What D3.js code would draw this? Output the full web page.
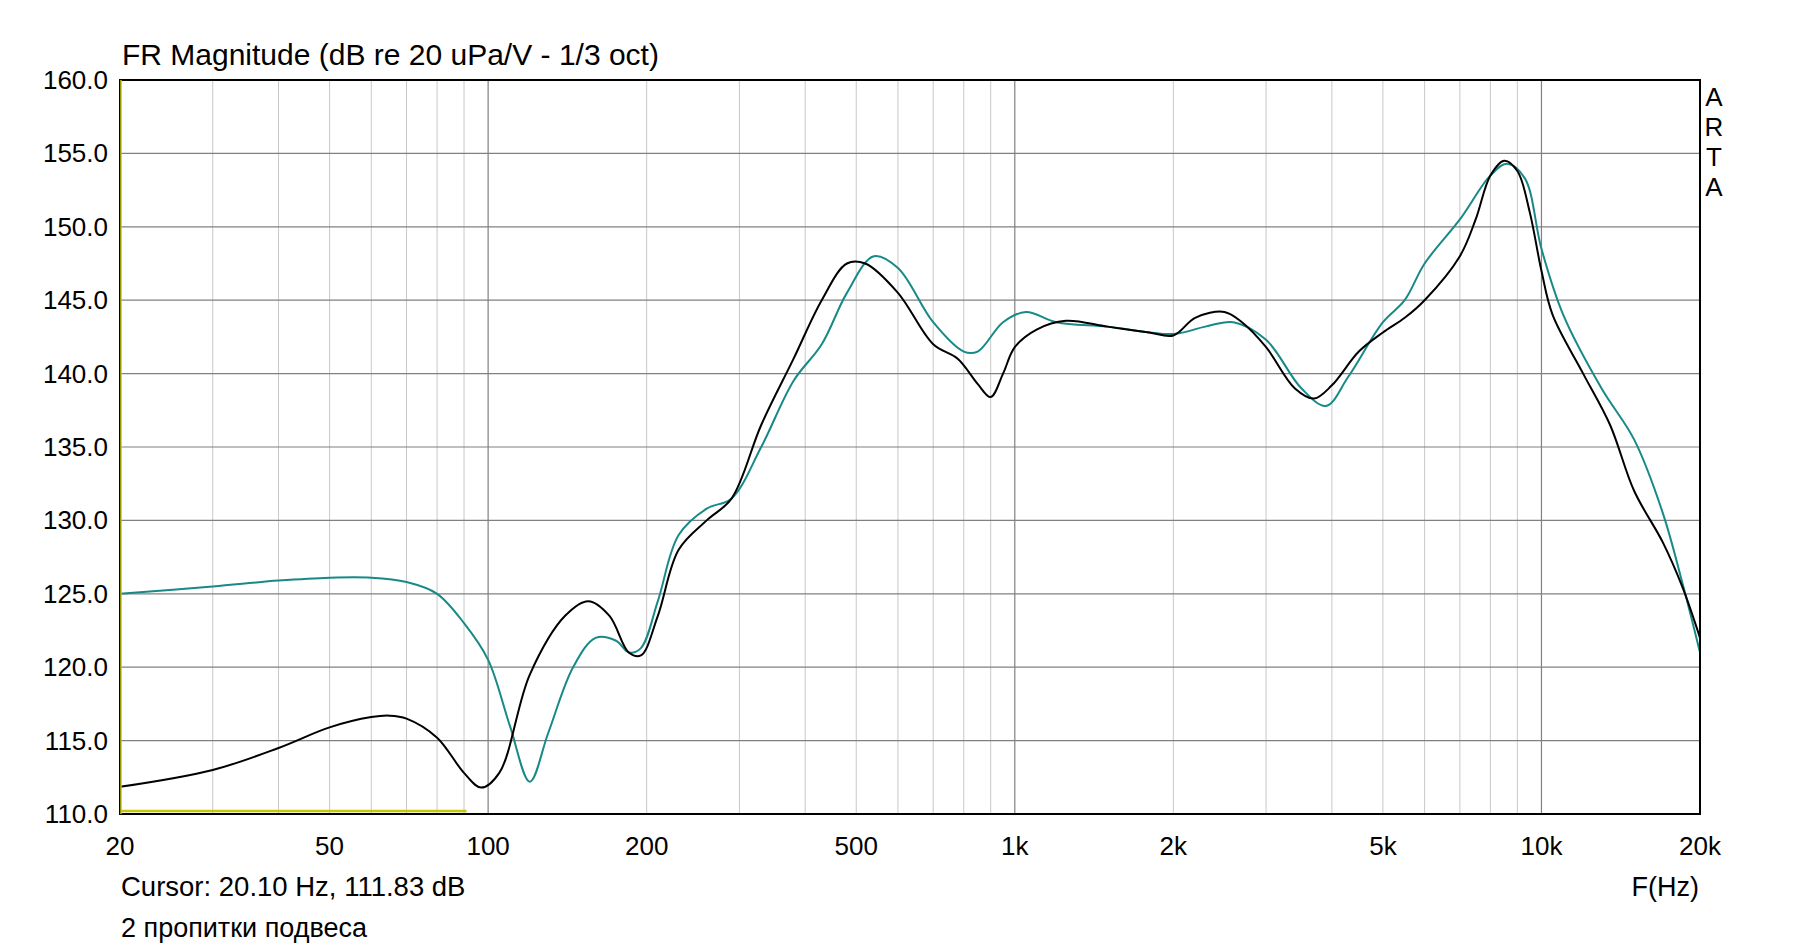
<!DOCTYPE html>
<html><head><meta charset="utf-8">
<script src="https://cdn.jsdelivr.net/npm/d3@7"></script>
<style>body{margin:0;background:#fff}text{font-family:"Liberation Sans",Arial,sans-serif;fill:#000}</style>
</head><body>
<svg id="c" width="1820" height="946"></svg>
<script>
const freqBlack=[20,30,40,50,60,65,70,80,90,97,105,120,140,155,170,185,195,210,230,260,290,330,380,430,480,520,600,700,780,850,900,950,1000,1100,1250,1500,1800,2000,2200,2500,2700,3000,3400,3700,4000,4500,5000,5500,6000,7000,7500,8000,8500,9000,9500,10000,10500,12000,13500,15000,17000,18500,20000];
const dbBlack=[111.85,113.0,114.5,115.9,116.6,116.7,116.5,115.2,112.8,111.8,112.8,119.5,123.5,124.5,123.5,121.0,120.8,123.5,128.0,130.0,131.5,136.5,141.0,145.0,147.5,147.5,145.5,142.0,141.0,139.3,138.4,140.0,141.8,143.0,143.6,143.2,142.8,142.6,143.8,144.2,143.5,141.8,139.0,138.3,139.2,141.5,142.8,143.8,145.0,148.0,150.5,153.5,154.5,153.8,151.0,147.0,144.0,140.0,136.5,132.0,128.5,125.5,122.0];
const freqTeal=[20,30,40,50,60,70,80,90,100,110,120,130,145,160,175,185,195,210,230,260,290,330,380,430,480,540,600,700,800,850,950,1050,1200,1500,2000,2300,2600,3000,3500,3900,4300,5000,5500,6000,7000,8000,8600,9300,10000,11000,13000,15000,17000,18500,20000];
const dbTeal=[125.0,125.5,125.9,126.1,126.1,125.8,125.0,123.0,120.5,116.0,112.2,115.5,120.0,122.0,121.8,121.0,121.3,124.5,129.0,130.8,131.5,135.0,139.5,142.0,145.5,148.0,147.2,143.5,141.5,141.5,143.5,144.2,143.5,143.2,142.7,143.2,143.5,142.3,139.0,137.8,139.8,143.5,145.0,147.5,150.5,153.5,154.3,153.3,148.5,144.0,139.0,135.5,130.5,125.8,121.0];
const yTicks=[110,115,120,125,130,135,140,145,150,155,160];
const xTickVals=[20,50,100,200,500,1000,2000,5000,10000,20000];
const xTickLabels=["20","50","100","200","500","1k","2k","5k","10k","20k"];
const cursorFreq=[20,91];
const cursorDb=[110.2,110.2];

const svg=d3.select("#c");
const L=120,R=1700,T=80,B=814;
const x=d3.scaleLog().domain([20,20000]).range([L,R]);
const y=d3.scaleLinear().domain([110,160]).range([B,T]);
const FS=26;

const minor=[];
[10,100,1000,10000].forEach(d=>{for(let k=2;k<=9;k++){const f=d*k;if(f>20&&f<20000)minor.push(f);}});
svg.append("g").selectAll("line").data(minor).join("line")
 .attr("x1",d=>x(d)).attr("x2",d=>x(d)).attr("y1",T).attr("y2",B).attr("stroke","#c8c8c8").attr("stroke-width",1);
svg.append("g").selectAll("line").data([100,1000,10000]).join("line")
 .attr("x1",d=>x(d)).attr("x2",d=>x(d)).attr("y1",T).attr("y2",B).attr("stroke","#808080").attr("stroke-width",1.2);
svg.append("g").selectAll("line").data(yTicks.slice(1,-1)).join("line")
 .attr("x1",L).attr("x2",R).attr("y1",d=>y(d)).attr("y2",d=>y(d)).attr("stroke","#808080").attr("stroke-width",1.2);

svg.append("path").datum(cursorFreq.map((f,i)=>[f,cursorDb[i]]))
 .attr("d",d3.line().x(d=>x(d[0])).y(d=>y(d[1]))).attr("stroke","#c8c800").attr("stroke-width",2.5).attr("fill","none");

const line=d3.line().x(d=>x(d[0])).y(d=>y(d[1])).curve(d3.curveCatmullRom.alpha(0.5));
svg.append("path").datum(freqTeal.map((f,i)=>[f,dbTeal[i]])).attr("d",line).attr("fill","none").attr("stroke","#178a88").attr("stroke-width",2);
svg.append("path").datum(freqBlack.map((f,i)=>[f,dbBlack[i]])).attr("d",line).attr("fill","none").attr("stroke","#000").attr("stroke-width",2);

svg.append("rect").attr("x",L).attr("y",T).attr("width",R-L).attr("height",B-T).attr("fill","none").attr("stroke","#000").attr("stroke-width",2);
svg.append("line").attr("x1",L+1).attr("x2",L+1).attr("y1",T).attr("y2",B).attr("stroke","#c8c800").attr("stroke-width",1.5);

svg.append("g").selectAll("text").data(yTicks).join("text")
 .attr("x",108).attr("y",d=>y(d)+9).attr("text-anchor","end").attr("font-size",FS).text(d=>d.toFixed(1));
svg.append("g").selectAll("text").data(xTickVals).join("text")
 .attr("x",d=>x(d)).attr("y",855).attr("text-anchor","middle").attr("font-size",FS).text((d,i)=>xTickLabels[i]);

svg.append("text").attr("x",122).attr("y",65).attr("font-size",30).text("FR Magnitude (dB re 20 uPa/V - 1/3 oct)");
svg.append("text").attr("x",121).attr("y",896).attr("font-size",27.5).text("Cursor: 20.10 Hz, 111.83 dB");
svg.append("text").attr("x",121).attr("y",937).attr("font-size",27).text("2 пропитки подвеса");
svg.append("text").attr("x",1699).attr("y",896).attr("text-anchor","end").attr("font-size",27).text("F(Hz)");
["A","R","T","A"].forEach((c,i)=>svg.append("text").attr("x",1714).attr("y",106+i*30).attr("text-anchor","middle").attr("font-size",FS).text(c));
</script></body></html>
